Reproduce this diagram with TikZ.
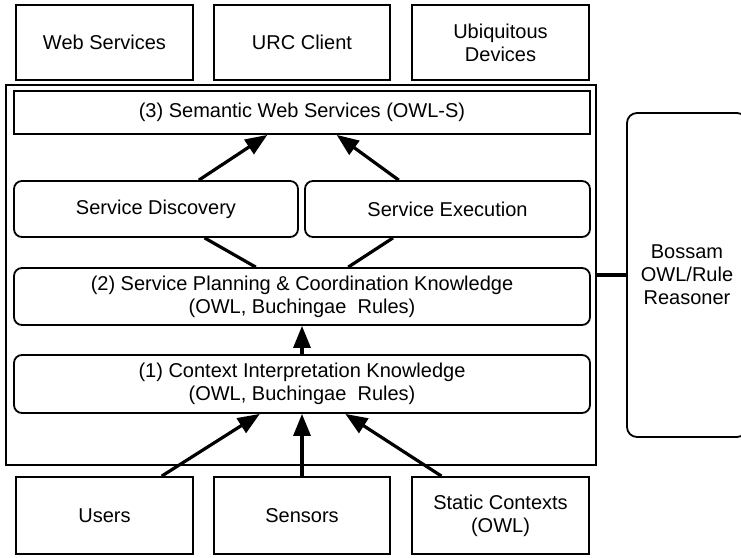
\documentclass[tikz,border=0pt]{standalone}
\usepackage{fontspec}
\setmainfont{Liberation Sans}
\usetikzlibrary{arrows.meta,calc}

\tikzset{
	box/.style={draw, line width=1.8pt, inner sep=0pt, align=center, font=\fontsize{20}{23}\selectfont},
	rbox/.style={box, rounded corners=8pt},
	link/.style={line width=3.2pt, -{Triangle[length=22pt,width=17pt]}},
	plain/.style={line width=3.2pt}
}

\begin{document}
\begin{tikzpicture}[x=1pt,y=-1pt]
	\useasboundingbox (0,0) rectangle (741,557);

	\node[box, minimum width=177pt, minimum height=75pt] (web) at (104.5,42.5) {Web Services};
	\node[box, minimum width=176pt, minimum height=75pt] (urc) at (302,42.5) {URC Client};
	\node[box, minimum width=177pt, minimum height=75pt] (ubi) at (500.5,42.5) {Ubiquitous\\Devices};

	\node[box, line width=2.2pt, minimum width=590pt, minimum height=380pt] (frame) at (301,275) {};

	\node[box, minimum width=576pt, minimum height=43pt] (sws) at (302,112.5) {(3) Semantic Web Services (OWL-S)};
	\node[rbox, minimum width=284pt, minimum height=56pt] (disc) at (156,209) {Service Discovery};
	\node[rbox, minimum width=285pt, minimum height=56pt] (exec) at (447.5,209) {Service Execution};
	\node[rbox, minimum width=576pt, minimum height=57pt] (plan) at (302,296.5) {(2) Service Planning \& Coordination Knowledge\\(OWL, Buchingae~ Rules)};
	\node[rbox, minimum width=576pt, minimum height=58pt] (ctx) at (302,384) {(1) Context Interpretation Knowledge\\(OWL, Buchingae~ Rules)};

	\node[box, minimum width=177pt, minimum height=77pt] (users) at (104.5,515.5) {Users};
	\node[box, minimum width=176pt, minimum height=77pt] (sensors) at (302,515.5) {Sensors};
	\node[box, minimum width=177pt, minimum height=77pt] (static) at (500.5,515.5) {Static Contexts\\(OWL)};

	\node[rbox, rounded corners=10pt, minimum width=120pt, minimum height=324pt] (bossam) at (687,275) {Bossam\\OWL/Rule\\Reasoner};

	\draw[link] ($(disc.north west)!.65!(disc.north east)$) -- ($(sws.south west)!.44!(sws.south east)$);
	\draw[link] ($(exec.north west)!.33!(exec.north east)$) -- ($(sws.south west)!.56!(sws.south east)$);
	\draw[plain] ($(disc.south west)!.67!(disc.south east)$) -- ($(plan.north west)!.42!(plan.north east)$);
	\draw[plain] ($(exec.south west)!.31!(exec.south east)$) -- ($(plan.north west)!.58!(plan.north east)$);
	\draw[link] (ctx.north) -- (plan.south);

	\draw[link] ($(users.north west)!.82!(users.north east)$) -- ($(ctx.south west)!.427!(ctx.south east)$);
	\draw[link] (sensors.north) -- (ctx.south);
	\draw[link] ($(static.north west)!.17!(static.north east)$) -- ($(ctx.south west)!.575!(ctx.south east)$);

	\draw[plain] (frame.east) -- (bossam.west);
\end{tikzpicture}
\end{document}
